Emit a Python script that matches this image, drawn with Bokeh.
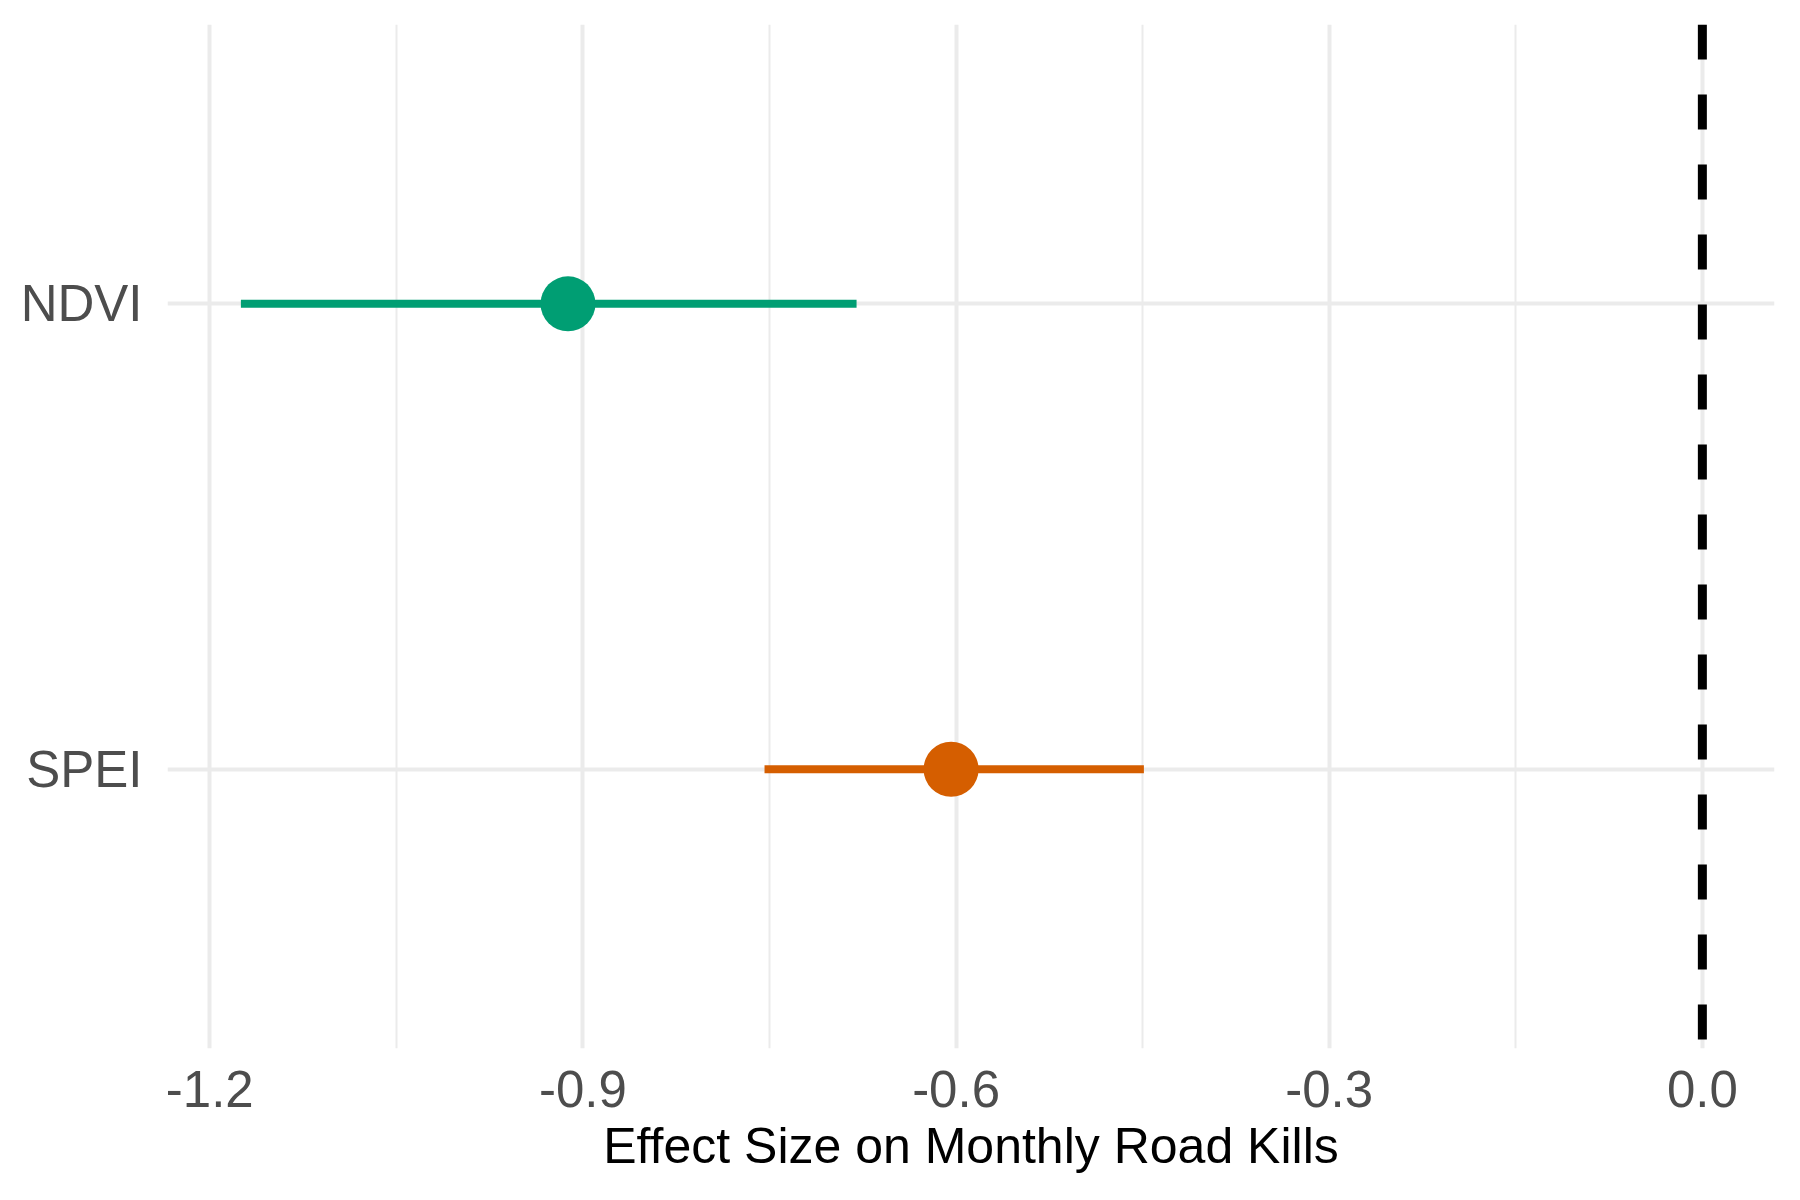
from bokeh.plotting import figure
from bokeh.models import FactorRange, Range1d, FixedTicker, Span, ColumnDataSource
from bokeh.embed import file_html
from bokeh.resources import INLINE

variables = ["NDVI", "SPEI"]
estimates = [-0.912, -0.604]
lower = [-1.175, -0.754]
upper = [-0.680, -0.449]
colors = ["#009E73", "#D55E00"]
x_ticks = [-1.2, -0.9, -0.6, -0.3, 0.0]
x_minor = [-1.05, -0.75, -0.45, -0.15]

src = ColumnDataSource(dict(var=variables, est=estimates, lo=lower, hi=upper, col=colors))

y_range = FactorRange(factors=["SPEI", "NDVI"], range_padding=0.1, range_padding_units="absolute")

p = figure(width=1792, height=1192, frame_width=1607, frame_height=1024,
           x_range=Range1d(-1.234, 0.058), y_range=y_range,
           output_backend="svg", toolbar_location=None,
           min_border_left=167, min_border_right=18, min_border_top=24, min_border_bottom=144)
p.outline_line_color = None
p.background_fill_color = "white"
p.border_fill_color = "white"

p.xaxis.ticker = FixedTicker(ticks=x_ticks, minor_ticks=x_minor)
p.xaxis.major_label_overrides = {t: f"{t:.1f}" for t in x_ticks}
p.xaxis.major_label_overrides[0.0] = "0.0"
for ax in (p.xaxis, p.yaxis):
    ax.axis_line_color = None
    ax.major_tick_line_color = None
    ax.minor_tick_line_color = None
    ax.major_label_text_font = "Liberation Sans"
    ax.major_label_text_font_size = "51px"
    ax.major_label_text_color = "#4D4D4D"
p.xaxis.major_label_standoff = 16
p.yaxis.major_label_standoff = 19
p.xaxis.axis_label = "Effect Size on Monthly Road Kills"
p.xaxis.axis_label_text_font = "Liberation Sans"
p.xaxis.axis_label_text_font_size = "50px"
p.xaxis.axis_label_text_font_style = "normal"
p.xaxis.axis_label_text_color = "black"
p.xaxis.axis_label_standoff = 8

p.xgrid.grid_line_color = "#EBEBEB"
p.xgrid.grid_line_width = 4
p.xgrid.minor_grid_line_color = "#EBEBEB"
p.xgrid.minor_grid_line_width = 2
p.ygrid.grid_line_color = "#EBEBEB"
p.ygrid.grid_line_width = 4

p.segment(x0="lo", x1="hi", y0="var", y1="var", line_color="col", line_width=8, source=src)
p.scatter(x="est", y="var", size=55, fill_color="col", line_color=None, source=src)

p.add_layout(Span(location=0.0, dimension="height", line_color="black",
                  line_width=9, line_dash="35 35"))

open("out.html", "w").write(file_html(p, INLINE))
